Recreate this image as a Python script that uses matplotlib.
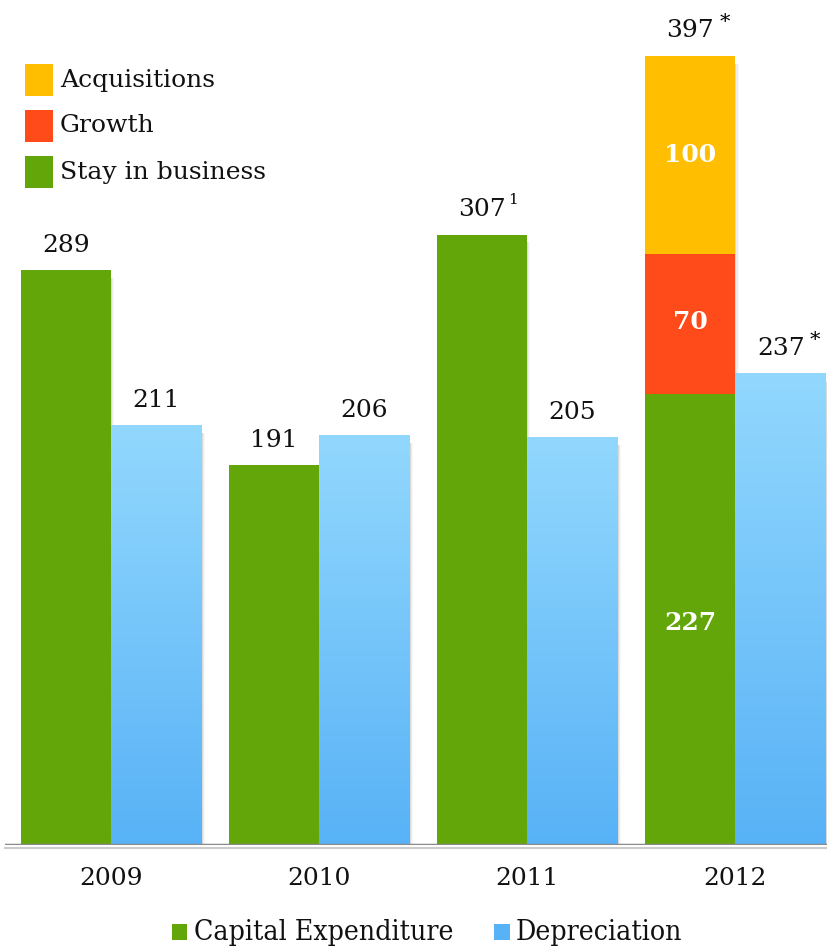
import numpy as np
import matplotlib
matplotlib.use("Agg")
import matplotlib.pyplot as plt
from matplotlib.colors import LinearSegmentedColormap
from matplotlib.patches import Rectangle

years = ["2009", "2010", "2011", "2012"]
capex = [289, 191, 307, 227]
depreciation = [211, 206, 205, 237]
growth_2012 = 70
acq_2012 = 100
capex_labels = ["289", "191", "307", "397"]
capex_marks = ["", "", "1", "*"]
dep_labels = ["211", "206", "205", "237"]
dep_marks = ["", "", "", "*"]

GREEN = "#62A60A"
RED = "#FF4A1A"
YELLOW = "#FFBF00"
BLUE_TOP = "#92D8FE"
BLUE_BOT = "#58B2F6"

plt.rcParams["font.family"] = ["DejaVu Serif"]

fig = plt.figure(figsize=(8.27, 9.48), dpi=100)
ax = fig.add_axes([0.006, 0.1087, 0.994, 0.8914])
ax.axis("off")

w = 0.435
x = np.arange(len(years))
blue_cmap = LinearSegmentedColormap.from_list("dep", [BLUE_BOT, BLUE_TOP])
grad = np.linspace(0, 1, 512).reshape(-1, 1)

# soft shadows on the right of each bar
for i in range(len(years)):
    top_c = capex[i] + (growth_2012 + acq_2012 if i == 3 else 0)
    for left, h in [(x[i] - w, top_c), (x[i], depreciation[i])]:
        for k, a in enumerate([0.08, 0.05, 0.025]):
            ax.add_patch(Rectangle((left + w, 0), 0.005 * (k + 1), h - 4,
                                   color="black", alpha=a, lw=0, zorder=1))

# capex bars
ax.bar(x - w / 2, capex, w, color=GREEN, zorder=2)
ax.bar(x[3] - w / 2, growth_2012, w, bottom=capex[3], color=RED, zorder=2)
ax.bar(x[3] - w / 2, acq_2012, w, bottom=capex[3] + growth_2012, color=YELLOW, zorder=2)

# depreciation bars with vertical gradient
for i in range(len(years)):
    ax.imshow(grad, extent=[x[i], x[i] + w, 0, depreciation[i]], origin="lower",
              cmap=blue_cmap, aspect="auto", interpolation="bicubic", zorder=2)
ax.set_xlim(-0.51, 3.44)
ax.set_ylim(0, 425)

# baseline
ax.axhline(0, color="#8a8a8a", lw=2.5, zorder=3)
ax.axhline(-1.3, color="#cccccc", lw=1.5, zorder=3, clip_on=False)

fs = 18
capex_top = [capex[0], capex[1], capex[2], capex[3] + growth_2012 + acq_2012]
for i in range(len(years)):
    ax.text(x[i] - w / 2, capex_top[i] + 12.5, capex_labels[i], ha="center",
            va="center", fontsize=fs, color="#111111")
    if capex_marks[i] == "*":
        ax.annotate("*", (x[i] - w / 2, capex_top[i] + 12.5),
                    xytext=(21, 6), textcoords="offset points",
                    fontsize=15, ha="left", va="center")
    elif capex_marks[i]:
        ax.annotate(capex_marks[i], (x[i] - w / 2, capex_top[i] + 12.5),
                    xytext=(19, 7), textcoords="offset points",
                    fontsize=11, ha="left", va="center")
    ax.text(x[i] + w / 2, depreciation[i] + 12.5, dep_labels[i], ha="center",
            va="center", fontsize=fs, color="#111111")
    if dep_marks[i]:
        ax.annotate(dep_marks[i], (x[i] + w / 2, depreciation[i] + 12.5),
                    xytext=(21, 6), textcoords="offset points",
                    fontsize=15, ha="left", va="center")
    ax.text(x[i], -17, years[i], ha="center", va="center", fontsize=fs,
            color="#111111")

# values inside 2012 stack
ax.text(x[3] - w / 2, capex[3] / 2 - 2, str(capex[3]), ha="center", va="center",
        fontsize=fs, color="white", fontweight="bold")
ax.text(x[3] - w / 2, capex[3] + growth_2012 / 2 + 1, str(growth_2012), ha="center",
        va="center", fontsize=fs, color="white", fontweight="bold")
ax.text(x[3] - w / 2, capex[3] + growth_2012 + acq_2012 / 2, str(acq_2012),
        ha="center", va="center", fontsize=fs, color="white", fontweight="bold")

# top-left legend
legend_items = [("Acquisitions", YELLOW), ("Growth", RED), ("Stay in business", GREEN)]
for k, (name, col) in enumerate(legend_items):
    yc = 1 - (80 + 46 * k) / 948
    fig.patches.append(Rectangle((25 / 827, yc - 16 / 948), 28 / 827, 32 / 948,
                                 transform=fig.transFigure, color=col, lw=0))
    fig.text(60 / 827, yc, name, fontsize=fs, va="center", ha="left",
             color="#111111")

# bottom legend
ly = 1 - 932 / 948
fig.patches.append(Rectangle((172 / 827, ly - 8 / 948), 15 / 827, 16 / 948,
                             transform=fig.transFigure, color=GREEN, lw=0))
fig.text(194 / 827, ly, "Capital Expenditure", fontsize=20.3, va="center",
         ha="left", fontstretch="condensed", color="#111111")
fig.patches.append(Rectangle((494 / 827, ly - 8 / 948), 16 / 827, 16 / 948,
                             transform=fig.transFigure, color=BLUE_BOT, lw=0))
fig.text(516 / 827, ly, "Depreciation", fontsize=20.3, va="center",
         ha="left", fontstretch="condensed", color="#111111")

fig.savefig("out.png", dpi=100)
